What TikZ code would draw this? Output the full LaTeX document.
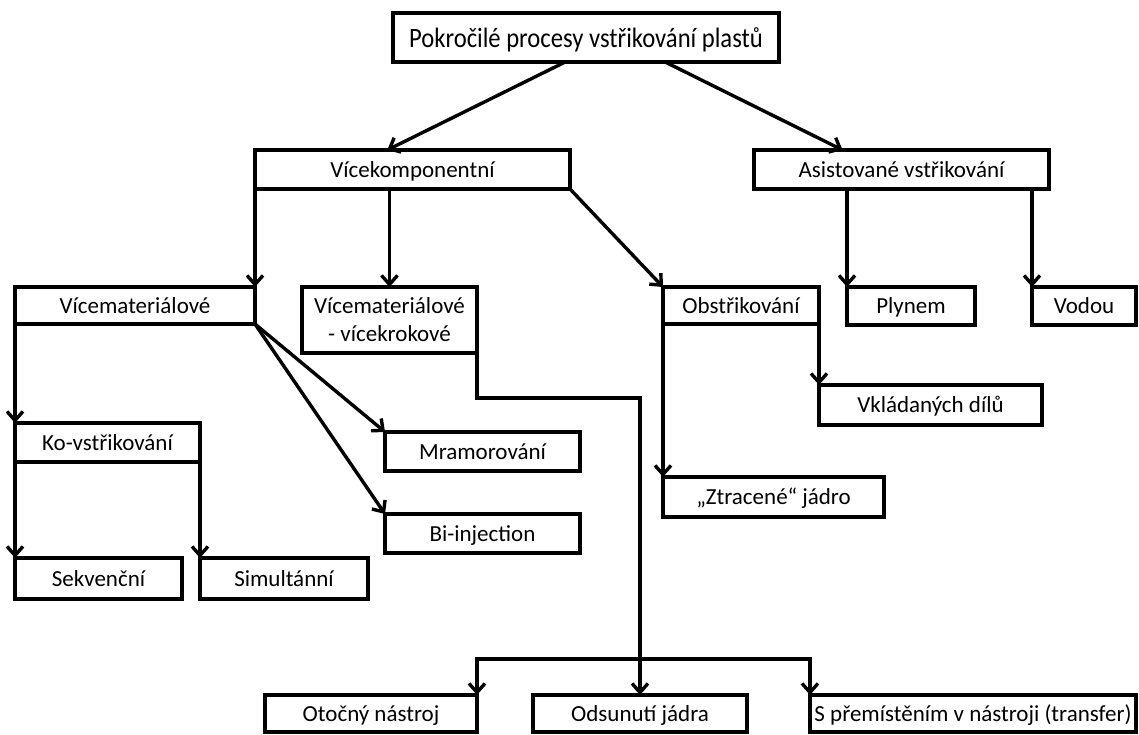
\documentclass[tikz,border=0pt]{standalone}
\usepackage{fontspec}
\setmainfont{Carlito}
\newfontfamily\rootfont[FakeStretch=0.88]{Carlito}
\usetikzlibrary{arrows.meta, calc}
\tikzset{
  every picture/.style={line width=3.4pt},
  box/.style={draw, fill=white, anchor=north west, outer sep=0pt, inner sep=2pt, align=center,
    text height=15pt, text depth=0pt, font=\fontsize{23}{28}\selectfont},
  arrow/.style={-{Straight Barb[length=9pt, width=16pt]}, line width=3.4pt},
}
\begin{document}
\begin{tikzpicture}[x=1pt, y=-1pt]
  \useasboundingbox (0,0) rectangle (1139,734);
  % top box
  \node[box, minimum width=386, minimum height=49, text height=20pt, text depth=0pt,
    font=\rootfont\fontsize{28}{32}\selectfont] (root) at (393,13) {Pokročilé procesy vstřikování plastů};
  % all other boxes: name/x/y/width/height/text
  \foreach \n/\x/\y/\w/\h/\t in {
      vice/255/150/315/39/{Vícekomponentní},
      asist/754/150/295/39/{Asistované vstřikování},
      vmat/15/287/240/37/{Vícemateriálové},
      obst/663/287/156/37/{Obstřikování},
      plyn/847/287/128/38/{Plynem},
      vodou/1032/287/104/38/{Vodou},
      vklad/819/385/223/40/{Vkládaných dílů},
      kovst/15/423/185/39/{Ko-vstřikování},
      mram/385/432/195/39/{Mramorování},
      biinj/385/514/195/39/{Bi-injection},
      ztrac/663/477/221/40/{„Ztracené“ jádro},
      sekv/15/558/167/41/{Sekvenční},
      simul/200/558/168/41/{Simultánní},
      otoc/265/695/212/37/{Otočný nástroj},
      odsun/533/695/214/37/{Odsunutí jádra},
      sprem/810/695/326/37/{S přemístěním v nástroji (transfer)}}
    \node[box, minimum width=\w, minimum height=\h] (\n) at (\x,\y) {\t};
  % two-line box
  \node[box, minimum width=175, minimum height=66, text height=, text depth=] (vmvk) at (302,287) {Vícemateriálové\\- vícekrokové};
  % from the top box
  \draw[arrow] ($(root.south west)!0.446!(root.south east)$) -- ($(vice.north west)!0.42!(vice.north east)$);
  \draw[arrow] ($(root.south west)!0.705!(root.south east)$) -- ($(asist.north west)!0.30!(asist.north east)$);
  % corner to corner
  \foreach \a/\b in {vice.south west/vmat.north east, vice.south east/obst.north west,
      vmat.south west/kovst.north west, vmat.south east/mram.north west, vmat.south east/biinj.north west,
      kovst.south west/sekv.north west, kovst.south east/simul.north west,
      obst.south east/vklad.north west, obst.south west/ztrac.north west}
    \draw[arrow] (\a) -- (\b);
  % straight down
  \draw[arrow] (vmvk.north |- vice.south) -- (vmvk.north);
  \draw[arrow] (plyn.north west |- asist.south) -- (plyn.north west);
  \draw[arrow] (vodou.north west |- asist.south) -- (vodou.north west);
  % long way down to the bottom row
  \draw[arrow] (vmvk.south east) -- ++(0,45) -| (odsun.north);
  \coordinate (bar) at ([yshift=36pt]odsun.north);
  \draw[arrow] (bar) -| (otoc.north east);
  \draw[arrow] (bar) -| (sprem.north west);
\end{tikzpicture}
\end{document}
